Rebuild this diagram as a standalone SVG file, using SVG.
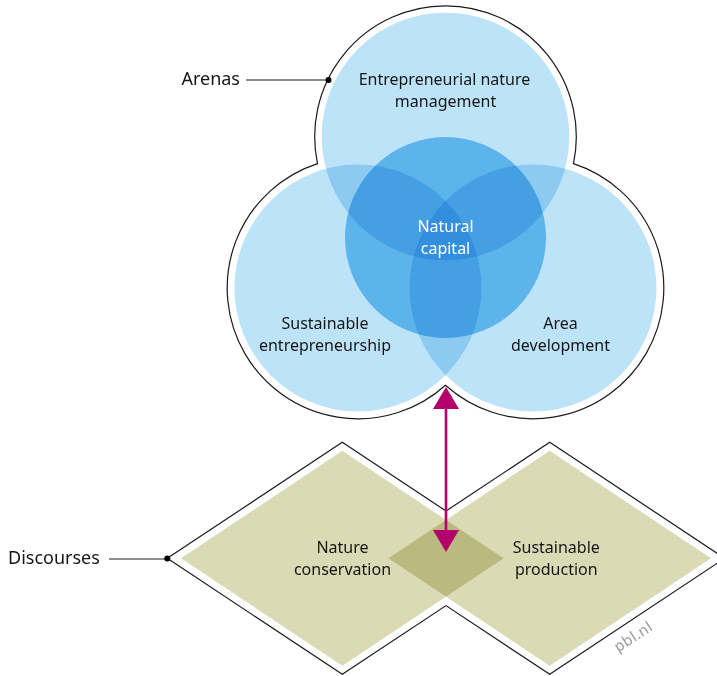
<svg xmlns="http://www.w3.org/2000/svg" width="717" height="676" viewBox="0 0 717 676">
<style>
.lbl{font-family:"Noto Sans","Open Sans",sans-serif;font-size:16px;fill:#161616;text-anchor:middle}
.side{font-family:"Noto Sans","Open Sans",sans-serif;font-size:18px;fill:#161616}
.light{fill:#bde3f8;mix-blend-mode:multiply}
.mid{fill:#7dcaf1;mix-blend-mode:multiply}
.khaki{fill:#dadab5;mix-blend-mode:multiply}
.outline{fill:#ffffff;stroke:#1a1a1a;stroke-width:1.2}
.arrow{stroke:#b5006b;stroke-width:2.6;fill:none}
</style>
<defs>
<marker id="ah" viewBox="0 0 22 26" refX="0" refY="13" markerWidth="22" markerHeight="26" markerUnits="userSpaceOnUse" orient="auto-start-reverse">
<path d="M0,0 L22,13 L0,26 Z" fill="#b5006b"/>
</marker>
</defs>
<rect width="717" height="676" fill="#ffffff"/>
<g id="outlines">
<path class="outline" d="M317.5,163.6 A130.8,130.8 0 1 1 573.5,163.6 A130.8,130.8 0 1 1 445.5,385.2 A130.8,130.8 0 1 1 317.5,163.6 Z"/>
<path class="outline" d="M167.3,558.3 L342.3,442.3 L446,511 L549.7,442.3 L724.7,558.3 L549.7,674.3 L446,605.6 L342.3,674.3 Z"/>
</g>
<g id="arenas-label">
<text class="side" x="240" y="85" text-anchor="end">Arenas</text>
<line x1="246" y1="80" x2="328" y2="80" stroke="#1a1a1a" stroke-width="1.2"/>
<circle cx="328.5" cy="80" r="3" fill="#000"/>
</g>
<g id="discourses-label">
<text class="side" x="8" y="564">Discourses</text>
<line x1="109" y1="559" x2="167" y2="559" stroke="#6a6a6a" stroke-width="1.4"/>
<circle cx="167.3" cy="558.6" r="3" fill="#000"/>
</g>
<g id="entrepreneurial-nature-management">
<circle class="light" cx="445.5" cy="136.5" r="123.8"/>
<text class="lbl" x="444.5" y="85">Entrepreneurial nature</text>
<text class="lbl" x="445.5" y="107">management</text>
</g>
<g id="sustainable-entrepreneurship">
<circle class="light" cx="358" cy="288" r="123.5"/>
<text class="lbl" x="325" y="329">Sustainable</text>
<text class="lbl" x="325" y="351">entrepreneurship</text>
</g>
<g id="area-development">
<circle class="light" cx="533" cy="288" r="123.5"/>
<text class="lbl" x="560.5" y="329">Area</text>
<text class="lbl" x="560.5" y="351">development</text>
</g>
<g id="natural-capital">
<circle class="mid" cx="445.5" cy="237.5" r="100.5"/>
<text class="lbl" x="445.5" y="232" style="fill:#ffffff">Natural</text>
<text class="lbl" x="445.5" y="254" style="fill:#ffffff">capital</text>
</g>
<g id="nature-conservation">
<polygon class="khaki" points="181,558.3 342.3,450.8 503.6,558.3 342.3,665.8"/>
<text class="lbl" x="342.5" y="553">Nature</text>
<text class="lbl" x="342.5" y="575">conservation</text>
</g>
<g id="sustainable-production">
<polygon class="khaki" points="388.4,558.3 549.7,450.8 711,558.3 549.7,665.8"/>
<text class="lbl" x="556.3" y="553">Sustainable</text>
<text class="lbl" x="556.3" y="575">production</text>
</g>
<g id="connectors">
<line class="arrow" x1="446" y1="409" x2="446" y2="530" marker-start="url(#ah)" marker-end="url(#ah)"/>
</g>
<text x="636" y="641" transform="rotate(-33 636 641)" text-anchor="middle" style="font-family:'Noto Sans','Open Sans',sans-serif;font-size:15px;letter-spacing:0.5px;fill:#9a9a9a">pbl.nl</text>
</svg>
